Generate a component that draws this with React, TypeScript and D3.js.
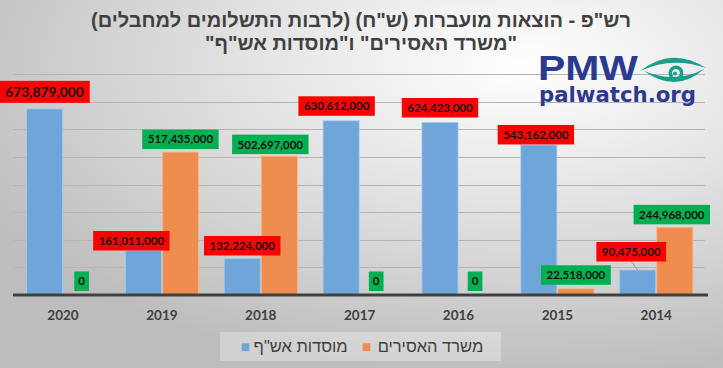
import { useEffect, useRef } from 'react';
import * as d3 from 'd3';

// data (shekels)
const years = ['2020', '2019', '2018', '2017', '2016', '2015', '2014'];
const seriesNames = ['מוסדות אש"ף', 'משרד האסירים'];
const paInstitutions = [673879000, 161011000, 132224000, 630612000, 624423000, 543162000, 90475000];
const prisonersMinistry = [0, 517435000, 502697000, 0, 0, 22518000, 244968000];
const yTicks = [0, 100e6, 200e6, 300e6, 400e6, 500e6, 600e6, 700e6, 800e6];
const titleLines = [
  'רש"פ - הוצאות מועברות (ש"ח) (לרבות התשלומים למחבלים)',
  '"משרד האסירים" ו"מוסדות אש"ף"',
];

const W = 723;
const H = 368;
const colors = ['#6fa6da', '#ee8d4d'];
const boxColors = ['#ff0000', '#00b050'];

// labels that were dragged by hand in the original (key: series-year index)
const labelNudge: Record<string, { dx?: number; gap?: number; big?: boolean; leader?: boolean }> = {
  '0-0': { gap: 6, big: true },
  '0-1': { dx: -12, gap: 0 },
  '0-3': { dx: -4.5, gap: 5 },
  '0-4': { gap: 5 },
  '0-5': { dx: -3, gap: 0.5 },
  '0-6': { dx: -6.5, gap: 8.5, leader: true },
  '1-0': { gap: 4 },
  '1-2': { dx: -9, gap: 2 },
  '1-3': { dx: -2, gap: 4 },
  '1-4': { dx: -2, gap: 4 },
  '1-5': { gap: 4 },
  '1-6': { dx: -3 },
};

const render = (el: SVGSVGElement) => {
  const svg = d3.select(el);
  svg.selectAll('*').remove();

  // background
  const defs = svg.append('defs');
  const bg = defs
    .append('radialGradient')
    .attr('id', 'bg')
    .attr('cx', '72%')
    .attr('cy', '18%')
    .attr('r', '85%');
  bg.append('stop').attr('offset', '0').attr('stop-color', '#ffffff');
  bg.append('stop').attr('offset', '0.35').attr('stop-color', '#e9e9e9');
  bg.append('stop').attr('offset', '1').attr('stop-color', '#bdbdbd');
  svg.append('rect').attr('width', W).attr('height', H).attr('fill', 'url(#bg)');

  // scales
  const x0 = d3.scaleBand().domain(years).range([13.6, 705.7]).paddingInner(0.25).paddingOuter(0.125);
  const x1 = d3.scaleBand().domain(['0', '1']).range([0, x0.bandwidth()]);
  const y = d3.scaleLinear().domain([0, 800e6]).range([295, 74]);

  // gridlines
  svg
    .append('g')
    .selectAll('line')
    .data(yTicks.slice(1))
    .enter()
    .append('line')
    .attr('x1', 13)
    .attr('x2', 705)
    .attr('y1', (d) => Math.round(y(d)) + 0.5)
    .attr('y2', (d) => Math.round(y(d)) + 0.5)
    .attr('stroke', '#b5b5b5')
    .attr('stroke-width', 1);

  const series = [paInstitutions, prisonersMinistry];

  // bars
  series.forEach((vals, s) => {
    svg
      .append('g')
      .selectAll('rect')
      .data(vals)
      .enter()
      .append('rect')
      .attr('x', (_d, i) => (x0(years[i]) as number) + (x1(String(s)) as number) + 0.5)
      .attr('width', x1.bandwidth() - 1)
      .attr('y', (d) => y(d))
      .attr('height', (d) => y(0) - y(d))
      .attr('fill', colors[s])
      .attr('stroke', s === 0 ? '#a9cbec' : '#f6b88c')
      .attr('stroke-width', (d) => (d > 0 ? 0.8 : 0));
  });

  // axis line
  svg
    .append('line')
    .attr('x1', 13)
    .attr('x2', 708)
    .attr('y1', y(0))
    .attr('y2', y(0))
    .attr('stroke', '#404040')
    .attr('stroke-width', 3);

  // year labels
  svg
    .append('g')
    .selectAll('text')
    .data(years)
    .enter()
    .append('text')
    .attr('x', (d) => (x0(d) as number) + x0.bandwidth() / 2)
    .attr('y', 319.5)
    .attr('text-anchor', 'middle')
    .attr('font-family', 'Lato, "Open Sans", sans-serif')
    .attr('font-weight', 'bold')
    .attr('font-size', 13.5)
    .attr('fill', '#404040')
    .text((d) => d);

  // data labels
  const fmt = d3.format(',');
  const labels = svg.append('g');
  series.forEach((vals, s) => {
    vals.forEach((v, i) => {
      const n = labelNudge[`${s}-${i}`] || {};
      const cx = (x0(years[i]) as number) + (x1(String(s)) as number) + x1.bandwidth() / 2 + (n.dx || 0);
      const fs = n.big ? 13.8 : 11.5;
      const bh = n.big ? 22 : 19.5;
      const bottom = y(v) - (n.gap ?? 3);
      const g = labels.append('g');
      const rect = g.append('rect');
      const t = g
        .append('text')
        .attr('x', cx)
        .attr('y', bottom - bh / 2)
        .attr('dy', '0.36em')
        .attr('text-anchor', 'middle')
        .attr('font-family', 'Lato, "Open Sans", sans-serif')
        .attr('font-weight', 'bold')
        .attr('font-size', fs)
        .attr('fill', '#111')
        .text(fmt(v));
      const tw = (t.node() as SVGTextElement).getComputedTextLength();
      const bw = tw + (v === 0 ? 8 : n.big ? 12 : 11);
      rect
        .attr('x', cx - bw / 2)
        .attr('y', bottom - bh)
        .attr('width', bw)
        .attr('height', bh)
        .attr('fill', boxColors[s]);
      if (n.leader) {
        g.insert('line', 'rect')
          .attr('x1', cx)
          .attr('y1', bottom)
          .attr('x2', (x0(years[i]) as number) + (x1(String(s)) as number) + x1.bandwidth() / 2)
          .attr('y2', y(v))
          .attr('stroke', '#9a9a9a')
          .attr('stroke-width', 1);
      }
    });
  });

  // title
  svg
    .append('g')
    .selectAll('text')
    .data(titleLines)
    .enter()
    .append('text')
    .attr('x', 361)
    .attr('y', (_d, i) => 26.5 + i * 23.5)
    .attr('text-anchor', 'middle')
    .attr('direction', 'rtl')
    .style('direction', 'rtl')
    .style('unicode-bidi', 'embed')
    .attr('font-family', '"Liberation Sans", Arial, sans-serif')
    .attr('font-weight', 'bold')
    .attr('font-size', 20)
    .attr('fill', '#404040')
    .text((d) => d);

  // logo
  const logo = svg.append('g');
  logo
    .append('text')
    .attr('x', 538)
    .attr('y', 80)
    .attr('textLength', 100)
    .attr('lengthAdjust', 'spacingAndGlyphs')
    .attr('font-family', '"Liberation Sans", Arial, sans-serif')
    .attr('font-weight', 'bold')
    .attr('font-size', 35)
    .attr('fill', '#2b3a8f')
    .text('PMW');
  logo
    .append('text')
    .attr('x', 539)
    .attr('y', 102)
    .attr('textLength', 157)
    .attr('lengthAdjust', 'spacingAndGlyphs')
    .attr('font-family', '"DejaVu Sans", "Liberation Sans", sans-serif')
    .attr('font-weight', 'bold')
    .attr('font-size', 21)
    .attr('fill', '#2b3a8f')
    .text('palwatch.org');
  const teal = '#17a08b';
  logo.append('path').attr('d', 'M640,71 Q672,46 706,68 Q672,56 640,71 Z').attr('fill', teal);
  logo.append('path').attr('d', 'M644,71 Q676,94 704,69 Q676,84 644,71 Z').attr('fill', teal);
  logo
    .append('path')
    .attr('d', d3.arc()({ innerRadius: 4, outerRadius: 7.5, startAngle: -2.4, endAngle: 2.6 }) as string)
    .attr('transform', 'translate(676,73)')
    .attr('fill', teal);
  logo.append('circle').attr('cx', 675).attr('cy', 73.5).attr('r', 2).attr('fill', teal);

  // legend
  const lg = svg.append('g');
  lg.append('rect')
    .attr('x', 220)
    .attr('y', 332)
    .attr('width', 281)
    .attr('height', 29)
    .attr('fill', '#ffffff')
    .attr('fill-opacity', 0.3);
  const legendItems = [
    { name: seriesNames[0], color: colors[0], sx: 241.7, tx: 347.7 },
    { name: seriesNames[1], color: colors[1], sx: 362.7, tx: 483.3 },
  ];
  legendItems.forEach((d) => {
    lg.append('rect').attr('x', d.sx).attr('y', 343.3).attr('width', 7.6).attr('height', 7.8).attr('fill', d.color);
    lg.append('text')
      .attr('x', d.tx)
      .attr('y', 352.3)
      .attr('text-anchor', 'start')
      .style('direction', 'rtl')
      .attr('font-family', '"Liberation Sans", Arial, sans-serif')
      .attr('font-size', 16.5)
      .attr('fill', '#404040')
      .text(d.name);
  });
};

export default function App() {
  const ref = useRef<SVGSVGElement>(null);
  useEffect(() => {
    if (ref.current) render(ref.current);
  }, []);
  return (
    <div style={{ position: 'absolute', left: 0, top: 0 }}>
      <svg ref={ref} width={W} height={H} style={{ display: 'block' }}></svg>
    </div>
  );
}
